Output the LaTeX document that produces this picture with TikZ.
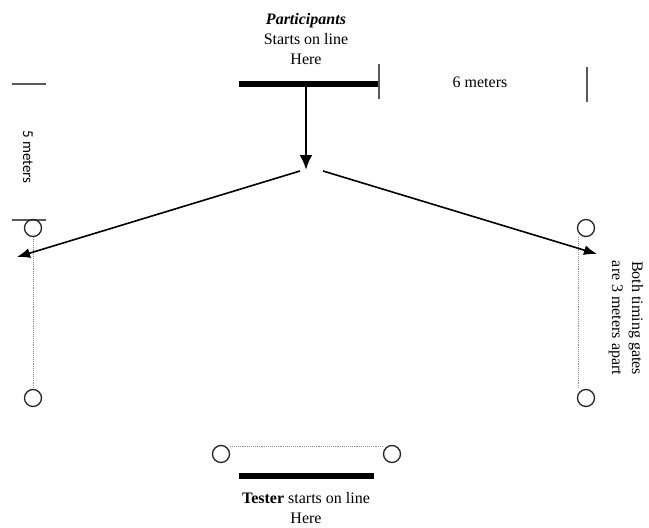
\documentclass[tikz,border=0pt]{standalone}
\usepackage{fontspec}
\setmainfont{Liberation Serif}
\newfontfamily\labelfont{Carlito}
\usetikzlibrary{arrows.meta, positioning}

\begin{document}
\begin{tikzpicture}[
    x=1pt, y=-1pt,
    font=\fontsize{16}{20}\selectfont,
    gate/.style={circle, draw=black!85, line width=1.3pt, minimum size=17pt, inner sep=0pt},
    startline/.style={line width=5.5pt},
    tick/.style={draw=black!65, line width=1.2pt},
    gap/.style={densely dotted, draw=black!45, line width=0.9pt},
    run/.style={-{Latex[length=13pt, width=10pt]}, line width=1.6pt}
  ]
    \useasboundingbox (0,0) rectangle (649,528);

    % start line of the participants
    \node[align=center] (ptext) at (306,39) {\textbf{\textit{Participants}}\\Starts on line\\Here};
    \coordinate (pl) at (239,84);
    \coordinate (pr) at (378,84);
    \coordinate (pm) at (306,84);
    \draw[startline] (pl) -- (pr);
    \draw[run, line width=2.6pt, -{Latex[length=15pt, width=13pt]}] (pm) -- (306,170) coordinate (hub);

    % distance marks
    \coordinate (t6a) at (379,64);
    \coordinate (t6b) at (379,99);
    \draw[tick] (t6a) -- (t6b);
    \coordinate (t6c) at (587,67);
    \coordinate (t6d) at (587,102);
    \draw[tick] (t6c) -- (t6d);
    \node (six) at (480,82) {6 meters};

    \coordinate (t5a) at (12,84);
    \coordinate (t5b) at (46,84);
    \draw[tick] (t5a) -- (t5b);
    \coordinate (t5c) at (12,220);
    \coordinate (t5d) at (46,220);
    \draw[tick] (t5c) -- (t5d);
    \node[rotate=-90, font=\labelfont\fontsize{15}{18}\selectfont] (five) at (28,157) {5 meters};

    % timing gates
    \node[gate] (lt) at (33,228) {};
    \node[gate] (lb) at (33,398) {};
    \node[gate] (rt) at (586,228) {};
    \node[gate] (rb) at (586,398) {};
    \node[gate] (bl) at (221,454) {};
    \node[gate] (br) at (392,454) {};
    \draw[gap] (lt.south) -- (lb.north);
    \draw[gap] ([xshift=-8pt]rt.south) -- ([xshift=-8pt]rb.north);
    \draw[gap] ([yshift=8pt]bl.east) -- ([yshift=8pt]br.west);

    % runs to the sides
    \coordinate (ls) at (300,171);
    \coordinate (le) at (17,257);
    \coordinate (rs) at (323,171);
    \coordinate (re) at (597,254);
    \draw[run] (ls) -- (le);
    \draw[run] (rs) -- (re);

    \node[rotate=-90, align=center] (apart) at (626,318) {Both timing gates\\are 3 meters apart};

    % start line of the tester
    \coordinate (tl) at (239,476);
    \coordinate (tr) at (374,476);
    \draw[startline] (tl) -- (tr);
    \node[align=center, inner sep=2pt] (ttext) at (306,508) {\textbf{Tester} starts on line\\Here};
  \end{tikzpicture}
\end{document}
